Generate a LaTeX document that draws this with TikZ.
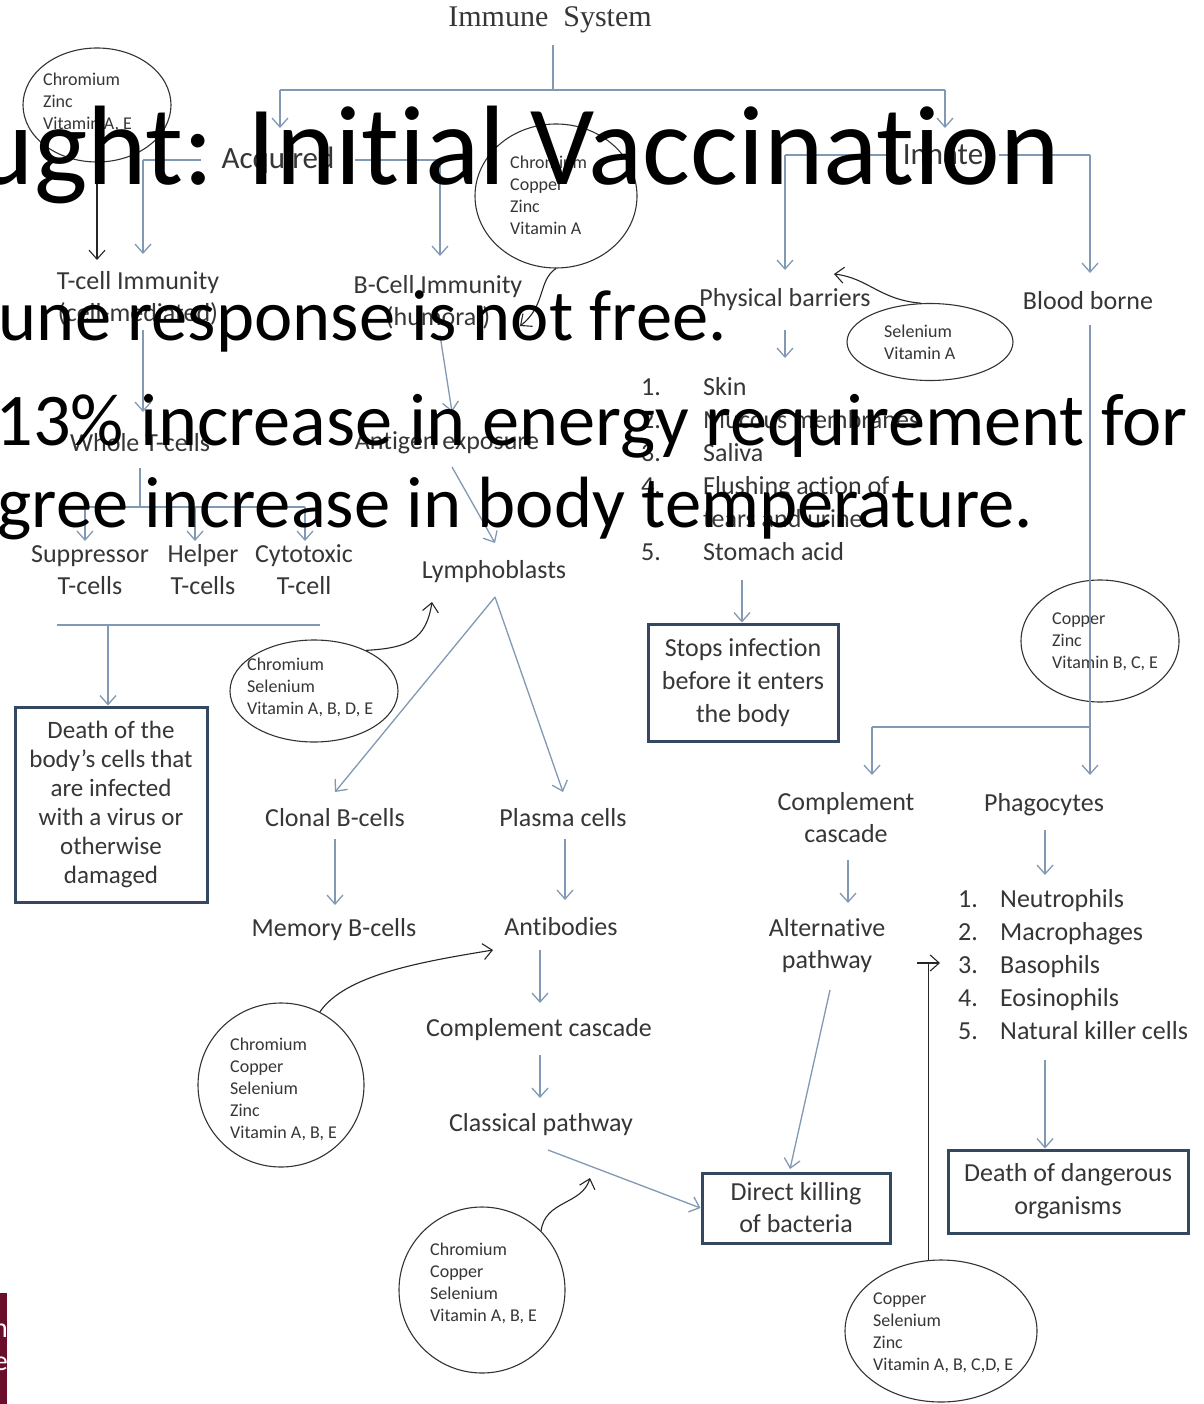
\documentclass[tikz,border=0pt]{standalone}
\usepackage{fontspec}
\setmainfont{Carlito}[Ligatures=NoCommon]
\newfontfamily\timesf{Liberation Serif}
\usetikzlibrary{arrows.meta,shapes.geometric}
\definecolor{txt}{HTML}{363636}
\definecolor{arr}{HTML}{8299B3}
\definecolor{boxc}{HTML}{34495F}
\definecolor{maroonc}{HTML}{6A0E2C}
\begin{document}
\begin{tikzpicture}[x=1pt,y=-1pt,
 lab/.style={font=\fontsize{26}{32}\selectfont, text=txt, align=center, inner sep=0pt},
 hdr/.style={font=\fontsize{31}{36}\selectfont, text=txt, fill=white, inner ysep=3pt},
 nutt/.style={font=\fontsize{18}{22}\selectfont, text=txt, align=left, anchor=north west, inner sep=0pt},
 flow/.style={draw=arr, line width=1.3pt, -{Straight Barb[length=9,width=16]}},
 plain/.style={draw=arr, line width=1.3pt},
 blk/.style={draw=black!85, line width=1.1pt, -{Straight Barb[length=9,width=16]}},
 blkline/.style={draw=black!85, line width=1.1pt},
 nut/.style={draw=black!80, line width=1.1pt, ellipse, inner sep=0pt},
 boxn/.style={draw=boxc, line width=3pt, fill=white, align=center, inner sep=0pt, text=txt},
 big/.style={text=black, inner sep=0pt, anchor=base east},
]
\fill[white] (0,0) rectangle (1203,1404);
\useasboundingbox (0,0) rectangle (1203,1404);

% ---------- top level ----------
\node[font=\timesf\fontsize{30}{36}\selectfont, text=txt, inner sep=0pt] (imm) at (550,20) {Immune\ \ System};
\coordinate (ctop) at (553,45);
\coordinate (a0) at (553,90);
\coordinate (aL) at (280,90);
\coordinate (aR) at (945,90);
\coordinate (tacq) at (280,128);
\coordinate (tinn) at (945,128);
\draw[plain] (ctop) -- (a0);
\draw[plain] (aL) -- (aR);
\draw[flow] (aL) -- (tacq);
\draw[flow] (aR) -- (tinn);

% Acquired branch line
\coordinate (q0) at (143,160);
\coordinate (q1) at (440,160);
\coordinate (tq0) at (143,254);
\coordinate (tq1) at (440,256);
\draw[plain] (q0) -- (q1);
\draw[flow] (q0) -- (tq0);
\draw[flow] (q1) -- (tq1);
\node[hdr, inner xsep=21pt] (acq) at (278,160) {Acquired};

% Innate branch line
\coordinate (n0) at (785,155);
\coordinate (n1) at (1090,155);
\coordinate (tn0) at (785,270);
\coordinate (tn1) at (1090,273);
\draw[plain] (n0) -- (n1);
\draw[flow] (n0) -- (tn0);
\draw[flow] (n1) -- (tn1);
\node[hdr, inner xsep=16pt] (inn) at (943,155) {Innate};

% ---------- nutrient ellipses ----------
\node[nut, minimum width=148, minimum height=114] (e1) at (97,105) {};
\node[nutt] (e1t) at (43,73) {Chromium\\Zinc\\Vitamin A, E};
\coordinate (tk1) at (97,260);
\draw[blk] (e1.south) -- (tk1);

\node[nut, minimum width=162, minimum height=144] (e2) at (556,196) {};
\node[nutt] (e2t) at (510,156) {Chromium\\Copper\\Zinc\\Vitamin A};

\node[nut, minimum width=166, minimum height=77] (e3) at (930,342) {};
\node[nutt] (e3t) at (884,325) {Selenium\\Vitamin A};

\node[nut, minimum width=158, minimum height=122] (e4) at (1100,641) {};
\node[nutt] (e4t) at (1052,613) {Copper\\Zinc\\Vitamin B, C, E};

\node[nut, minimum width=168, minimum height=102] (e5) at (314,691) {};
\node[nutt] (e5t) at (247,658) {Chromium\\Selenium\\Vitamin A, B, D, E};

\node[nut, minimum width=166, minimum height=164] (e6) at (281,1085) {};
\node[nutt] (e6t) at (230,1038) {Chromium\\Copper\\Selenium\\Zinc\\Vitamin A, B, E};

\node[nut, minimum width=166, minimum height=166] (e7) at (482,1290) {};
\node[nutt] (e7t) at (430,1243) {Chromium\\Copper\\Selenium\\Vitamin A, B, E};

\node[nut, minimum width=192, minimum height=142] (e8) at (941,1331) {};
\node[nutt] (e8t) at (873,1293) {Copper\\Selenium\\Zinc\\Vitamin A, B, C,D, E};

% ---------- acquired side ----------
\node[lab] (tci) at (138,298) {T-cell Immunity\\(cell-mediated)};
\node[lab] (bci) at (438,302) {B-Cell Immunity\\(humoral)};
\coordinate (tk2) at (520,326);
\draw[blk] (e2.south) .. controls (538,280) and (546,306) .. (tk2);

\coordinate (s1) at (143,330);
\coordinate (ts1) at (143,412);
\draw[flow] (s1) -- (ts1);
\node[lab] (whole) at (140,443) {Whole T-cells};
\coordinate (w0) at (140,468);
\coordinate (w1) at (140,507);
\coordinate (w2) at (85,507);
\coordinate (w3) at (305,507);
\coordinate (w4) at (195,507);
\draw[plain] (w0) -- (w1);
\draw[plain] (w2) -- (w3);
\node[lab] (supp) at (90,570) {Suppressor\\T-cells};
\node[lab] (help) at (203,570) {Helper\\T-cells};
\node[lab] (cyto) at (304,570) {Cytotoxic\\T-cell};
\coordinate (tw2) at (85,541);
\coordinate (tw4) at (195,541);
\coordinate (tw3) at (305,541);
\draw[flow] (w2) -- (tw2);
\draw[flow] (w4) -- (tw4);
\draw[flow] (w3) -- (tw3);

\coordinate (b0) at (57,625);
\coordinate (b1) at (320,625);
\coordinate (b2) at (108,625);
\draw[plain] (b0) -- (b1);
\node[boxn, minimum width=192, minimum height=195, font=\fontsize{25}{29}\selectfont] (deathL) at (111,804.5)
  {Death of the\\body’s cells that\\are infected\\with a virus or\\otherwise\\damaged};
\draw[flow] (b2) -- (b2 |- deathL.north);

\coordinate (g0) at (440,335);
\coordinate (tg0) at (452,412);
\draw[flow] (g0) -- (tg0);
\node[lab] (antig) at (447,443) {Antigen exposure};
\coordinate (g1) at (452,467);
\coordinate (tg1) at (495,543);
\draw[flow] (g1) -- (tg1);
\node[lab] (lympho) at (494,572) {Lymphoblasts};
\coordinate (apex) at (495,597);
\coordinate (tcl) at (335,792);
\coordinate (tpl) at (563,792);
\draw[flow] (apex) -- (tcl);
\draw[flow] (apex) -- (tpl);
\coordinate (tk5) at (432,602);
\draw[blk] (e5.38) .. controls (408,648) and (426,640) .. (tk5);

\node[lab] (clonal) at (335,818) {Clonal B-cells};
\node[lab] (plasma) at (563,818) {Plasma cells};
\node[lab] (memory) at (334,930) {Memory B-cells};
\node[lab] (antib) at (561,927) {Antibodies};
\node[lab] (compc) at (539,1030) {Complement cascade};
\node[lab] (classical) at (541,1125) {Classical pathway};
\draw[flow] (clonal.south) ++(0,12) -- (335,905);
\draw[flow] (plasma.south) ++(2,12) -- (565,900);
\draw[flow] (antib.south) ++(-21,14) -- (540,1003);
\draw[flow] (compc.south) ++(1,14) -- (540,1098);
\coordinate (cl0) at (548,1150);
\coordinate (tk6) at (493,950);
\draw[blk] (e6.62) .. controls (345,975) and (420,962) .. (tk6);
\coordinate (tk7) at (590,1178);
\draw[blk] (e7.45) .. controls (545,1200) and (582,1205) .. (tk7);

% ---------- innate side ----------
\node[lab] (phys) at (785,300) {Physical barriers};
\node[lab] (blood) at (1088,301) {Blood borne};
\coordinate (tk3) at (834,274);
\draw[blk] (e3.103) .. controls (880,300) and (868,278) .. (tk3);
\coordinate (p0) at (785,330);
\coordinate (tp0) at (785,358);
\draw[flow] (p0) -- (tp0);
\node[inner sep=0pt, anchor=north west, text=txt, font=\fontsize{26}{33}\selectfont] (blist) at (641,372)
 {\begin{tabular}[t]{@{}l@{}l@{}}
  \makebox[62pt][l]{1.}&Skin\\
  \makebox[62pt][l]{2.}&Mucous membranes\\
  \makebox[62pt][l]{3.}&Saliva\\
  \makebox[62pt][l]{4.}&Flushing action of\\
  &tears and urine\\
  \makebox[62pt][l]{5.}&Stomach acid
 \end{tabular}};
\node[boxn, minimum width=190, minimum height=117, font=\fontsize{26}{33}\selectfont] (stops) at (743,682.5)
  {Stops infection\\before it enters\\the body};
\coordinate (sa) at (742,580);
\draw[flow] (sa) -- (sa |- stops.north);

\coordinate (bb0) at (1090,325);
\coordinate (bb1) at (1090,727);
\coordinate (bb2) at (872,727);
\coordinate (tbb1) at (1090,775);
\coordinate (tbb2) at (872,775);
\draw[flow] (bb0) -- (tbb1);
\draw[plain] (bb1) -- (bb2);
\draw[flow] (bb2) -- (tbb2);

\node[lab] (comp2) at (846,818) {Complement\\cascade};
\node[lab] (phago) at (1044,805) {Phagocytes};
\node[lab] (altp) at (827,946) {Alternative\\pathway};
\coordinate (cc0) at (848,860);
\coordinate (tcc0) at (848,903);
\draw[flow] (cc0) -- (tcc0);
\coordinate (ph0) at (1045,830);
\coordinate (tph0) at (1045,875);
\draw[flow] (ph0) -- (tph0);
\node[inner sep=0pt, anchor=north west, text=txt, font=\fontsize{26}{33}\selectfont] (plist) at (958,884)
 {\begin{tabular}[t]{@{}l@{}l@{}}
  \makebox[42pt][l]{1.}&Neutrophils\\
  \makebox[42pt][l]{2.}&Macrophages\\
  \makebox[42pt][l]{3.}&Basophils\\
  \makebox[42pt][l]{4.}&Eosinophils\\
  \makebox[42pt][l]{5.}&Natural killer cells
 \end{tabular}};

\node[boxn, minimum width=188, minimum height=70, font=\fontsize{26}{32}\selectfont] (direct) at (796,1208)
  {Direct killing\\of bacteria};
\node[boxn, minimum width=240, minimum height=83, font=\fontsize{26}{33}\selectfont] (death2) at (1068,1191.5)
  {Death of dangerous\\organisms};
\draw[flow] (cl0) -- (direct.west);
\coordinate (al0) at (830,990);
\draw[flow] (al0) -- (790,1169);
\coordinate (nk0) at (1045,1060);
\draw[flow] (nk0) -- (nk0 |- death2.north);

\coordinate (k80) at (917,963);
\coordinate (tk8) at (940,963);
\draw[blkline] (e8.100) -- (e8.100 |- k80) -- (k80);
\draw[blk] (k80) -- (tk8);

% ---------- maroon tab ----------
\fill[maroonc] (0,1293) rectangle (7,1404);
\begin{scope}
\clip (0,1293) rectangle (7,1404);
\node[big, text=white, font=\fontsize{28}{30}\selectfont] (tabn) at (8,1337) {n};
\node[big, text=white, font=\fontsize{28}{30}\selectfont] (tabe) at (8,1370) {e};
\end{scope}

% ---------- slide text overlay ----------
\node[big, font=\fontsize{113}{120}\selectfont] (title) at (1060,185) {ught: Initial Vaccination};
\node[big, font=\fontsize{72.5}{80}\selectfont] (l2) at (727,340) {une response is not free.};
\node[big, font=\fontsize{74.4}{80}\selectfont] (l3) at (1188,445) {13\% increase in energy requirement for};
\node[big, font=\fontsize{72.6}{80}\selectfont] (l4) at (1033,527) {gree increase in body temperature.};
\end{tikzpicture}
\end{document}
